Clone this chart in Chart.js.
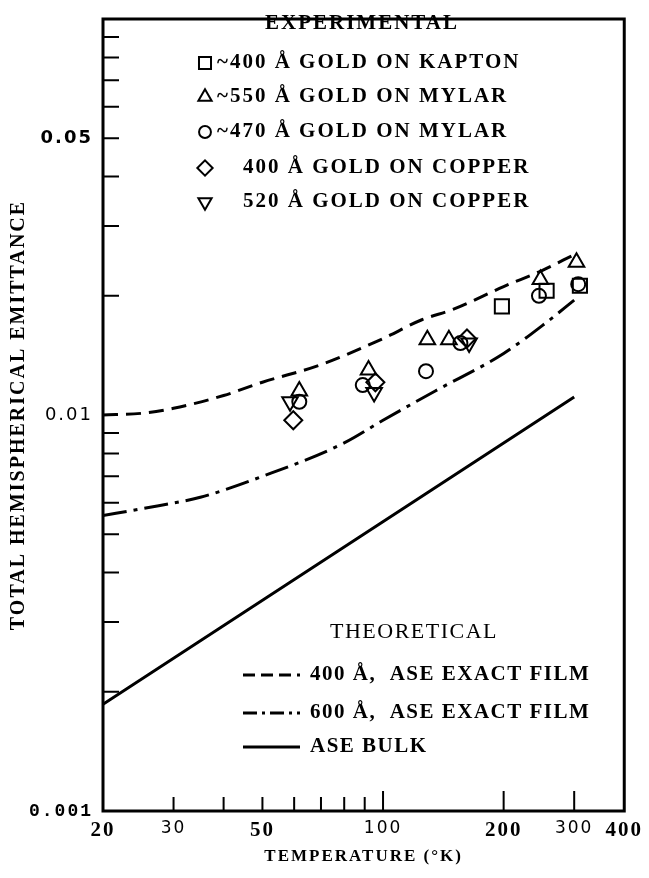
<!DOCTYPE html>
<html lang="en">
<head>
<meta charset="UTF-8">
<title>Total hemispherical emittance vs temperature</title>
<script src="https://cdn.jsdelivr.net/npm/chart.js"></script>
<style>
  html, body { margin: 0; padding: 0; background: #fff; }
  canvas { display: block; }
</style>
</head>
<body>
<canvas id="chart" width="649" height="878"></canvas>
<script>
// experimental points: temperature (K) and emittance
const kaptonT = [198, 256, 310];
const kaptonE = [0.0188, 0.0206, 0.0212];
const mylar550T = [61.8, 92, 129, 146, 247, 304];
const mylar550E = [0.0115, 0.0130, 0.0155, 0.0155, 0.0220, 0.0243];
const mylar470T = [61.8, 89, 128, 156, 245, 307];
const mylar470E = [0.0108, 0.0119, 0.0129, 0.0152, 0.0200, 0.0214];
const copper400T = [59.7, 95.7, 162];
const copper400E = [0.0097, 0.0121, 0.0156];
const copper520T = [58.6, 95, 164];
const copper520E = [0.0108, 0.0114, 0.0152];

// theoretical curves
const film400T = [20, 25, 30, 40, 50, 70, 100, 125, 150, 200, 250, 300];
const film400E = [0.0100, 0.0101, 0.0104, 0.0112, 0.0121, 0.0134, 0.0156, 0.0174, 0.0185, 0.0211, 0.0232, 0.0254];
const film600T = [20, 25, 35, 50, 80, 100, 135, 200, 257, 300];
const film600E = [0.00557, 0.0058, 0.0062, 0.0070, 0.0085, 0.0097, 0.0115, 0.0143, 0.0172, 0.0195];
const bulkT = [20, 300];
const bulkE = [0.00186, 0.0111];

// axes
const xTickValues = [20, 30, 50, 100, 200, 300, 400];
const yTickValues = [0.001, 0.01, 0.05];
const yTickLabels = ['0.001', '0.01', '0.05'];
const xMinorTicks = [30, 40, 50, 60, 70, 80, 90, 100, 200, 300];
const yMinorTicks = [0.002, 0.003, 0.004, 0.005, 0.006, 0.007, 0.008, 0.009,
                     0.02, 0.03, 0.04, 0.05, 0.06, 0.07, 0.08, 0.09];

const pts = (T, E) => T.map((t, i) => ({ x: t, y: E[i] }));

function marker(label, T, E, style, radius, rotation) {
  return {
    label, data: pts(T, E), showLine: false,
    pointStyle: style, pointRadius: radius, pointRotation: rotation || 0,
    pointBorderWidth: 2, pointBorderColor: '#000', pointBackgroundColor: 'rgba(0,0,0,0)'
  };
}
function curve(label, T, E, dash) {
  return {
    label, data: pts(T, E), showLine: true, pointRadius: 0,
    borderColor: '#000', borderWidth: 3, borderDash: dash,
    cubicInterpolationMode: 'monotone', fill: false
  };
}

const datasets = [
  marker('~400 Å GOLD ON KAPTON', kaptonT, kaptonE, 'rect', 10),
  marker('~550 Å GOLD ON MYLAR', mylar550T, mylar550E, 'triangle', 9),
  marker('~470 Å GOLD ON MYLAR', mylar470T, mylar470E, 'circle', 7),
  marker('400 Å GOLD ON COPPER', copper400T, copper400E, 'rectRot', 9),
  marker('520 Å GOLD ON COPPER', copper520T, copper520E, 'triangle', 9, 180),
  curve('400 Å,  ASE EXACT FILM', film400T, film400E, [15, 8]),
  curve('600 Å,  ASE EXACT FILM', film600T, film600E, [24, 7, 4, 7]),
  curve('ASE BULK', bulkT, bulkE, [])
];

// axis text is a little letter-spaced in the original
const axisSpacing = {
  id: 'axisSpacing',
  beforeDraw(chart) { chart.ctx.letterSpacing = '2px'; },
  beforeDatasetsDraw(chart) { chart.ctx.letterSpacing = '0px'; }
};

// heavy frame and inward tick marks
const frameAndTicks = {
  id: 'frameAndTicks',
  afterDatasetsDraw(chart) {
    const { ctx, chartArea: a, scales: { x, y } } = chart;
    ctx.save();
    ctx.strokeStyle = '#000';
    ctx.lineWidth = 2;
    ctx.beginPath();
    yMinorTicks.forEach(v => {
      const py = y.getPixelForValue(v);
      ctx.moveTo(a.left, py); ctx.lineTo(a.left + 16, py);
    });
    xMinorTicks.forEach(v => {
      const px = x.getPixelForValue(v);
      const len = v >= 100 ? 20 : 14;
      ctx.moveTo(px, a.bottom); ctx.lineTo(px, a.bottom - len);
    });
    ctx.stroke();
    ctx.lineWidth = 3;
    ctx.strokeRect(a.left, a.top, a.right - a.left, a.bottom - a.top);
    ctx.restore();
  }
};

// the two legend blocks inside the plot
const legendBox = {
  id: 'legendBox',
  afterDraw(chart) {
    const ctx = chart.ctx;
    const ds = chart.data.datasets;
    ctx.save();
    ctx.fillStyle = '#000';
    ctx.strokeStyle = '#000';
    ctx.textBaseline = 'middle';
    ctx.letterSpacing = '2px';

    ctx.font = 'bold 21px "Liberation Serif"';
    ctx.textAlign = 'center';
    ctx.fillText('EXPERIMENTAL', 362, 24);

    const expRows = [[0, 63, 217], [1, 97, 217], [2, 132, 217], [3, 168, 243], [4, 202, 243]];
    ctx.textAlign = 'left';
    expRows.forEach(([i, yy, tx]) => {
      const d = ds[i];
      ctx.lineWidth = 2;
      ctx.fillStyle = 'rgba(0,0,0,0)';
      Chart.helpers.drawPoint(ctx, {
        pointStyle: d.pointStyle, radius: d.pointRadius * 0.85,
        rotation: d.pointRotation, borderWidth: 2
      }, 205, yy);
      ctx.fillStyle = '#000';
      ctx.fillText(d.label, tx, yy);
    });

    ctx.letterSpacing = '1.5px';
    ctx.font = '22px "Liberation Serif"';
    ctx.textAlign = 'center';
    ctx.fillText('THEORETICAL', 414, 632);

    const thRows = [[5, 675, [12, 6]], [6, 713, [14, 5, 3, 5]], [7, 747, []]];
    ctx.textAlign = 'left';
    ctx.font = 'bold 21px "Liberation Serif"';
    thRows.forEach(([i, yy, dash]) => {
      ctx.lineWidth = 3;
      ctx.setLineDash(dash);
      ctx.beginPath(); ctx.moveTo(243, yy); ctx.lineTo(300, yy); ctx.stroke();
      ctx.setLineDash([]);
      ctx.fillText(ds[i].label, 310, yy);
    });
    ctx.restore();
  }
};

new Chart(document.getElementById('chart'), {
  type: 'scatter',
  data: { datasets },
  options: {
    responsive: false,
    animation: false,
    layout: { padding: { left: 0, right: 23, top: 10, bottom: 0 } },
    plugins: { legend: { display: false }, tooltip: { enabled: false } },
    scales: {
      x: {
        type: 'logarithmic', min: 20, max: 400,
        grid: { display: false, drawTicks: false }, border: { display: false },
        afterBuildTicks: s => { s.ticks = xTickValues.map(v => ({ value: v })); },
        afterFit: s => { s.height = 67; },
        ticks: {
          autoSkip: false, maxRotation: 0, padding: 9, color: '#000',
          font: c => ([30, 100, 300].includes(c.tick && c.tick.value)
            ? { family: 'DejaVu Sans', size: 17, lineHeight: 1 }
            : { family: 'Liberation Serif', size: 21, weight: 'bold', lineHeight: 1 }),
          callback: v => String(v)
        },
        title: {
          display: true, text: 'TEMPERATURE (°K)', color: '#000',
          font: { family: 'Liberation Serif', size: 17, weight: 'bold' },
          padding: { top: 0, bottom: 11 }
        }
      },
      y: {
        type: 'logarithmic', min: 0.001, max: 0.1,
        grid: { display: false, drawTicks: false }, border: { display: false },
        afterBuildTicks: s => { s.ticks = yTickValues.map(v => ({ value: v })); },
        afterFit: s => { s.width = 103; },
        ticks: {
          autoSkip: false, padding: 10, color: '#000',
          font: c => (c.tick && c.tick.value === 0.001
            ? { family: 'Liberation Mono', size: 18, weight: 'bold', lineHeight: 1 }
            : { family: 'DejaVu Sans', size: 18, weight: c.tick && c.tick.value === 0.05 ? 'bold' : 'normal', lineHeight: 1 }),
          callback: v => yTickLabels[yTickValues.indexOf(v)]
        },
        title: {
          display: true, text: 'TOTAL HEMISPHERICAL EMITTANCE', color: '#000',
          font: { family: 'Liberation Serif', size: 20, weight: 'bold' },
          padding: { top: 7, bottom: 0 }
        }
      }
    }
  },
  plugins: [axisSpacing, frameAndTicks, legendBox]
});
</script>
</body>
</html>
